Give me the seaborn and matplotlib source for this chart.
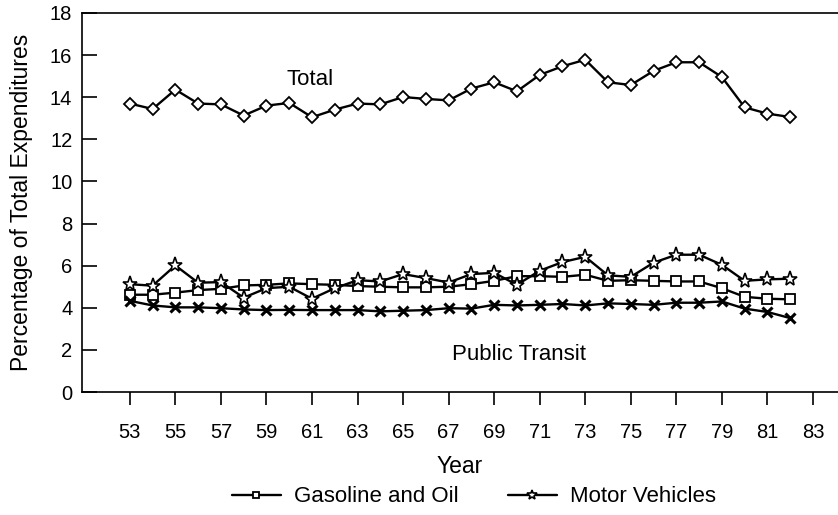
import numpy as np
import pandas as pd
import seaborn as sns
import matplotlib.pyplot as plt
from matplotlib.ticker import MultipleLocator, FixedLocator

years = list(range(53, 83))
total = [13.70, 13.44, 14.36, 13.70, 13.66, 13.13, 13.60, 13.73, 13.05, 13.41,
         13.70, 13.66, 14.01, 13.92, 13.85, 14.41, 14.71, 14.28, 15.06, 15.47,
         15.78, 14.71, 14.58, 15.25, 15.66, 15.66, 14.96, 13.52, 13.22, 13.06]
gasoline = [4.62, 4.62, 4.72, 4.84, 4.90, 5.06, 5.09, 5.16, 5.12, 5.09,
            5.03, 5.00, 4.97, 4.97, 5.00, 5.12, 5.28, 5.50, 5.50, 5.47,
            5.57, 5.28, 5.31, 5.28, 5.25, 5.25, 4.93, 4.52, 4.43, 4.40]
motor = [5.12, 5.05, 6.01, 5.19, 5.22, 4.48, 4.93, 5.00, 4.43, 4.93,
         5.31, 5.25, 5.60, 5.41, 5.20, 5.60, 5.66, 5.09, 5.76, 6.17,
         6.42, 5.54, 5.47, 6.14, 6.52, 6.52, 6.04, 5.28, 5.35, 5.38]
transit = [4.33, 4.11, 4.02, 4.02, 3.98, 3.92, 3.89, 3.90, 3.89, 3.89,
           3.89, 3.83, 3.86, 3.89, 3.98, 3.96, 4.14, 4.11, 4.14, 4.18,
           4.11, 4.21, 4.18, 4.14, 4.24, 4.24, 4.30, 3.96, 3.80, 3.51]
xticks = list(range(53, 84, 2))

sns.set_style('ticks')
plt.rcParams['font.family'] = ['Liberation Sans', 'DejaVu Sans']
plt.rcParams['text.color'] = 'black'
plt.rcParams['axes.labelcolor'] = 'black'

fig = plt.figure(figsize=(8.38, 5.15), dpi=100)
ax = fig.add_axes([82 / 838, 1 - 392 / 515, 1 - 82 / 838, (392 - 13) / 515])

line_kw = dict(color='black', linewidth=1.7, markeredgecolor='black')

sns.lineplot(x=years, y=total, ax=ax, marker='D', markerfacecolor='white',
             markeredgewidth=1.3, markersize=6.5, legend=False, **line_kw)
sns.lineplot(x=years, y=gasoline, ax=ax, marker='s', markerfacecolor='white',
             markeredgewidth=1.3, markersize=7, label='Gasoline and Oil', **line_kw)
sns.lineplot(x=years, y=motor, ax=ax, marker='*', markerfacecolor='white',
             markeredgewidth=1.2, markersize=11, label='Motor Vehicles', **line_kw)
sns.lineplot(x=years, y=transit, ax=ax, marker='x', markeredgewidth=2.2,
             markersize=7, legend=False, **line_kw)

ax.set_xlim(50.9, 84.1)
ax.set_ylim(0, 18)
ax.yaxis.set_major_locator(MultipleLocator(2))
ax.xaxis.set_major_locator(FixedLocator(xticks))
ax.xaxis.set_minor_locator(FixedLocator(xticks))
ax.yaxis.set_minor_locator(MultipleLocator(2))

ax.spines['right'].set_visible(False)
for s in ['left', 'bottom', 'top']:
    ax.spines[s].set_linewidth(1.2)
    ax.spines[s].set_color('black')

ax.tick_params(axis='x', which='major', direction='out', length=9, width=1.2,
               labelsize=14.5, pad=13, colors='black')
ax.tick_params(axis='x', which='minor', direction='in', length=5, width=1.2)
ax.tick_params(axis='y', which='major', direction='in', length=11, width=1.2,
               labelsize=14.5, pad=7, colors='black')
ax.tick_params(axis='y', which='minor', direction='out', length=3.5, width=1.2)

ax.set_xlabel('Year', fontsize=16.5, labelpad=10)
ax.set_ylabel('Percentage of Total Expenditures', fontsize=16.5, labelpad=12)

ax.text(60.9, 14.85, 'Total', fontsize=16, ha='center', va='center')
ax.text(70.1, 1.79, 'Public Transit', fontsize=16, ha='center', va='center')

handles, labels = ax.get_legend_handles_labels()
ax.get_legend().remove()
fig.legend(handles, labels, loc='center', bbox_to_anchor=(474 / 838, 1 - 497 / 515),
           ncol=2, frameon=False, fontsize=16, handlelength=2.2, markerscale=0.7,
           columnspacing=2.2, handletextpad=0.6)

fig.savefig('out.png', dpi=100)
